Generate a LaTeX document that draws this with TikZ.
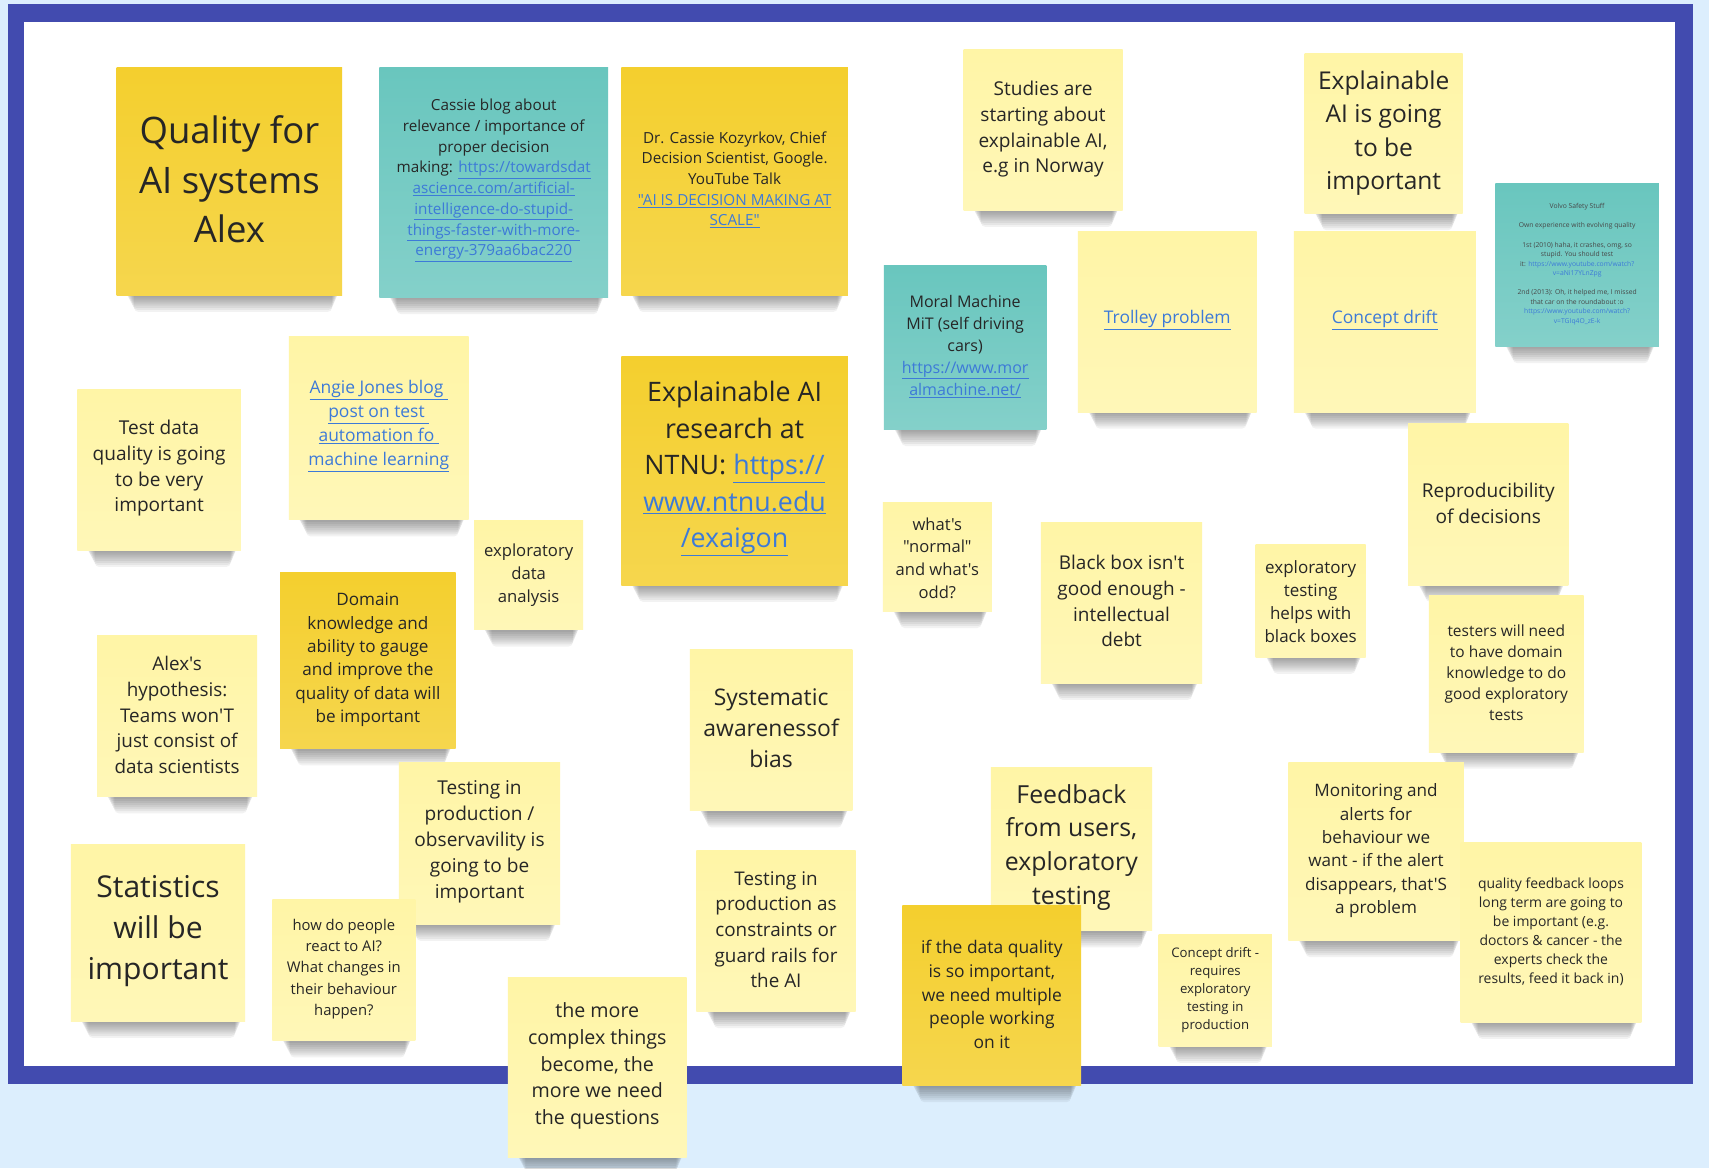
\documentclass[tikz,border=0pt]{standalone}
\usepackage{fontspec}
\setmainfont{Open Sans}[Ligatures=TeXOff]
\definecolor{canvas}{HTML}{DCEEFD}
\definecolor{frameblue}{HTML}{424BAF}
\definecolor{lightnote}{HTML}{FFF5A6}
\definecolor{darknote}{HTML}{F4CF2E}
\definecolor{tealnote}{HTML}{69C6BE}
\definecolor{linkblue}{HTML}{3D7AD8}
\definecolor{ink}{HTML}{262626}
\newcommand\lnk[1]{{\color{linkblue}\underline{#1}}}
\newcommand\lnc[1]{{\color{linkblue}#1}}
\newcommand\fs[2]{\fontsize{#1}{#2}\selectfont}
\tikzset{
  notebox/.style={inner sep=0pt, outer sep=0pt, draw=none},
  lightstyle/.style={top color=lightnote, bottom color=lightnote!80!white},
  darkstyle/.style={top color=darknote, bottom color=darknote!85!white},
  tealstyle/.style={top color=tealnote, bottom color=tealnote!82!white},
  notetext/.style={align=center, inner sep=0pt, text=ink},
  shadowlayer/.style={black, opacity=0.05, rounded corners=4pt},
}
% #1 name, #2 x1, #3 y1, #4 x2, #5 y2, #6 style, #7 text y, #8 font, #9 text
\newcommand\stk[9]{%
  \foreach \k in {1,...,8}{%
    \fill[shadowlayer] ({#2+8+1.0*\k},{#5-5}) rectangle ({#4-3-0.8*\k},{#5+1.9*\k});
  }%
  \node[notebox, #6, minimum width={(#4-#2)*1pt}, minimum height={(#5-#3)*1pt}] (#1) at ({(#2+#4)/2},{(#3+#5)/2}) {};
  \node[notetext, #8] (#1-t) at ({(#2+#4)/2},{#7+3}) {#9};
}
\begin{document}
\begin{tikzpicture}[x=1pt,y=-1pt]
\useasboundingbox (0,0) rectangle (1568,1072);
\fill[canvas] (0,0) rectangle (1568,1072);
\fill[frameblue] (7,4) rectangle (1553,995);
\fill[white] (22,20) rectangle (1537,978);

\stk{qual}{107}{62}{314}{271}{darkstyle}{161.5}{font=\fs{33.5}{45.5}}{Quality for\\AI systems\\Alex}
\stk{cassie}{348}{62}{558}{273}{tealstyle}{162.5}{font=\fs{14}{19}}{Cassie blog about\\relevance / importance of\\proper decision\\making: \lnk{https://towardsdat}\\\lnk{ascience.com/artificial-}\\\lnk{intelligence-do-stupid-}\\\lnk{things-faster-with-more-}\\\lnk{energy-379aa6bac220}}
\stk{kozyrkov}{570}{62}{778}{271}{darkstyle}{162}{font=\fs{14}{19}}{Dr. Cassie Kozyrkov, Chief\\Decision Scientist, Google.\\YouTube Talk\\\lnk{"AI IS DECISION MAKING AT}\\\lnk{SCALE"}}
\stk{studies}{884}{45}{1030}{193}{lightstyle}{115.5}{font=\fs{17.5}{23.7}}{Studies are\\starting about\\explainable AI,\\e.g in Norway}
\stk{xaiimp}{1197}{49}{1342}{196}{lightstyle}{119}{font=\fs{22.5}{30.6}}{Explainable\\AI is going\\to be\\important}
\stk{volvo}{1372}{168}{1522}{318}{tealstyle}{239.5}{font=\fs{6.2}{8.75}, text=ink!85}{Volvo Safety Stuff\\[8.75pt]Own experience with evolving quality\\[8.75pt]1st (2010) haha, it crashes, omg, so\\stupid. You should test\\it: \lnc{https://www.youtube.com/watch?}\\\lnc{v=aNi17YLnZpg}\\[8.75pt]2nd (2013): Oh, it helped me, I missed\\that car on the roundabout :o\\\lnc{https://www.youtube.com/watch?}\\\lnc{v=TGIq4O\_zE-k}}
\stk{moral}{811}{244}{960}{394}{tealstyle}{315}{font=\fs{14.7}{20}}{Moral Machine\\MiT (self driving\\cars)\\\lnk{https://www.mor}\\\lnk{almachine.net/}}
\stk{trolley}{989}{212}{1153}{378}{lightstyle}{291}{font=\fs{16}{21.8}}{\lnk{Trolley problem}}
\stk{cdrift}{1187}{212}{1354}{378}{lightstyle}{291}{font=\fs{16}{21.8}}{\lnk{Concept drift}}
\stk{angie}{265}{309}{430}{477}{lightstyle}{388}{font=\fs{16}{22}}{\lnk{Angie Jones blog }\\\lnk{post on test }\\\lnk{automation fo }\\\lnk{machine learning}}
\stk{ntnu}{570}{327}{778}{537}{darkstyle}{427}{font=\fs{24.6}{33.5}}{Explainable AI\\research at\\NTNU: \lnk{https://}\\\lnk{www.ntnu.edu}\\\lnk{/exaigon}}
\stk{testdata}{71}{357}{221}{505}{lightstyle}{426.5}{font=\fs{17.5}{23.7}}{Test data\\quality is going\\to be very\\important}
\stk{eda}{435}{478}{535}{578}{lightstyle}{525}{font=\fs{15.3}{21}}{exploratory\\data\\analysis}
\stk{normal}{810}{461}{910}{561}{lightstyle}{509}{font=\fs{15.2}{20.7}}{what's\\"normal"\\and what's\\odd?}
\stk{blackbox}{955}{479}{1103}{627}{lightstyle}{548.5}{font=\fs{17.4}{23.7}}{Black box isn't\\good enough -\\intellectual\\debt}
\stk{exptest}{1152}{500}{1253}{603}{lightstyle}{549}{font=\fs{15.6}{21.3}}{exploratory\\testing\\helps with\\black boxes}
\stk{repro}{1292}{389}{1439}{537}{lightstyle}{459}{font=\fs{17.5}{24}}{Reproducibility\\of decisions}
\stk{domain}{257}{525}{418}{687}{darkstyle}{602.5}{font=\fs{15.7}{21.4}}{Domain\\knowledge and\\ability to gauge\\and improve the\\quality of data will\\be important}
\stk{alex}{89}{583}{236}{731}{lightstyle}{653}{font=\fs{17.3}{23.5}}{Alex's\\hypothesis:\\Teams won'T\\just consist of\\data scientists}
\stk{systematic}{633}{596}{782}{744}{lightstyle}{665.5}{font=\fs{21}{28.5}}{Systematic\\awarenessof\\bias}
\stk{testers}{1311}{546}{1453}{690}{lightstyle}{614.5}{font=\fs{14.2}{19.3}}{testers will need\\to have domain\\knowledge to do\\good exploratory\\tests}
\stk{tip}{366}{700}{514}{848}{lightstyle}{769.5}{font=\fs{17.5}{23.75}}{Testing in\\production /\\observavility is\\going to be\\important}
\stk{feedback}{909}{704}{1057}{854}{lightstyle}{774.5}{font=\fs{22.8}{31}}{Feedback\\from users,\\exploratory\\testing}
\stk{monitoring}{1182}{700}{1343}{863}{lightstyle}{777.5}{font=\fs{15.7}{21.4}}{Monitoring and\\alerts for\\behaviour we\\want - if the alert\\disappears, that'S\\a problem}
\stk{statistics}{65}{775}{225}{937}{lightstyle}{851.5}{font=\fs{27.6}{37.5}}{Statistics\\will be\\important}
\stk{howdo}{250}{825}{381}{955}{lightstyle}{886}{font=\fs{13.6}{19.5}}{how do people\\react to AI?\\What changes in\\their behaviour\\happen?}
\stk{tipconstraints}{639}{780}{785}{928}{lightstyle}{850}{font=\fs{17.3}{23.5}}{Testing in\\production as\\constraints or\\guard rails for\\the AI}
\stk{ifdata}{828}{831}{992}{996}{darkstyle}{909.5}{font=\fs{16}{21.75}}{if the data quality\\is so important,\\we need multiple\\people working\\on it}
\stk{cdrift2}{1063}{857}{1167}{960}{lightstyle}{905}{font=\fs{12.1}{16.5}}{Concept drift -\\requires\\exploratory\\testing in\\production}
\stk{qfl}{1340}{773}{1506}{938}{lightstyle}{851.5}{font=\fs{12.8}{17.4}}{quality feedback loops\\long term are going to\\be important (e.g.\\doctors \& cancer - the\\experts check the\\results, feed it back in)}
\stk{complex}{466}{897}{630}{1062}{lightstyle}{975}{font=\fs{18}{24.5}}{the more\\complex things\\become, the\\more we need\\the questions}
\end{tikzpicture}
\end{document}
